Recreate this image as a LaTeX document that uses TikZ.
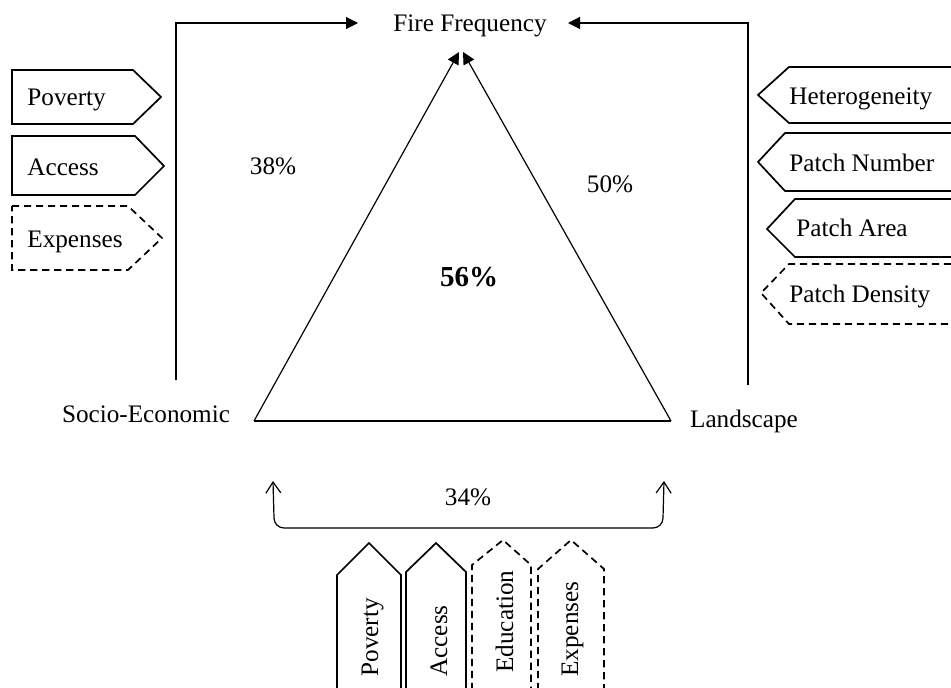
\documentclass[tikz,border=0pt]{standalone}
\usepackage{fontspec}
\setmainfont{Liberation Serif}
\usetikzlibrary{arrows.meta}
\begin{document}
\begin{tikzpicture}[x=0.5pt,y=-0.5pt,
  lbl/.style={font=\fontsize{12.6}{15}\selectfont, inner sep=0pt},
  tagbox/.style={draw, line width=0.85pt, line join=miter},
  dtagbox/.style={tagbox, dash pattern=on 3.6pt off 2.4pt},
  conn/.style={draw, line width=0.6pt},
  fillarr/.style={conn, -{Triangle[length=6pt,width=6pt]}},
  openarr/.style={conn, {Straight Barb[length=5.5pt,width=7.5pt]}-{Straight Barb[length=5.5pt,width=7.5pt]}}
]
\useasboundingbox (0,0) rectangle (951,688);

% main labels
\node[lbl, anchor=base] (fire) at (470,32) {Fire Frequency};
\node[lbl, anchor=base] (socio) at (146,423) {Socio-Economic};
\node[lbl, anchor=base] (land) at (744,428) {Landscape};
\node[lbl, anchor=base] (p38) at (273,175) {38\%};
\node[lbl, anchor=base] (p50) at (610,193) {50\%};
\node[lbl, anchor=base] (p34) at (468,505) {34\%};
\node[lbl, anchor=base, font=\fontsize{14.5}{17}\selectfont\bfseries] (p56) at (469,287) {56\%};

% coordinates for connectors
\coordinate (sl) at (176,380);
\coordinate (slt) at (176,23);
\coordinate (ffl) at (358,23);
\coordinate (lr) at (748,385);
\coordinate (lrt) at (748,23);
\coordinate (ffr) at (568,23);
\coordinate (A) at (254,421);
\coordinate (B) at (671,421);
\coordinate (apexL) at (459,52);
\coordinate (apexR) at (463,52);
\coordinate (bl) at (273,481);
\coordinate (br) at (664,481);

% top connectors
\draw[fillarr] (sl) -- (slt) -- (ffl);
\draw[fillarr] (lr) -- (lrt) -- (ffr);

% triangle
\draw[conn] (A) -- (B);
\draw[fillarr] (A) -- (apexL);
\draw[fillarr] (B) -- (apexR);

% bottom bracket
\draw[openarr] (bl) -- (274,518) to[out=-90,in=180] (284,528) -- (653,528) to[out=0,in=-90] (663,518) -- (br);

% left tags
\draw[tagbox] (12,70) -- (133,70) -- (161,97) -- (133,124) -- (12,124) -- cycle;
\node[lbl, anchor=base west] (lpov) at (27,106) {Poverty};
\draw[tagbox] (12,136) -- (135,136) -- (164,166) -- (135,195) -- (12,195) -- cycle;
\node[lbl, anchor=base west] (lacc) at (27,176) {Access};
\draw[dtagbox] (12,206) -- (128,206) -- (162,238) -- (128,270) -- (12,270) -- cycle;
\node[lbl, anchor=base west] (lexp) at (27,248) {Expenses};

% right tags
\draw[tagbox] (951,67) -- (789,67) -- (758,95) -- (789,123) -- (951,123);
\node[lbl, anchor=base west] (rhet) at (789,105) {Heterogeneity};
\draw[tagbox] (951,133) -- (785,133) -- (758,162) -- (785,191) -- (951,191);
\node[lbl, anchor=base west] (rpn) at (789,172) {Patch Number};
\draw[tagbox] (951,199) -- (795,199) -- (767,229) -- (795,257) -- (951,257);
\node[lbl, anchor=base west] (rpa) at (796,237) {Patch Area};
\draw[dtagbox] (951,264) -- (789,264) -- (761,293) -- (789,324) -- (951,324);
\node[lbl, anchor=base west] (rpd) at (789,303) {Patch Density};

% bottom tags
\draw[tagbox] (337,690) -- (337,575) -- (369,543) -- (401,575) -- (401,690);
\node[lbl, anchor=base west, rotate=90] (bpov) at (378,677) {Poverty};
\draw[tagbox] (406,690) -- (406,572) -- (436,543) -- (466,572) -- (466,690);
\node[lbl, anchor=base west, rotate=90] (bacc) at (447,677) {Access};
\draw[dtagbox] (472,690) -- (472,565) -- (503,540) -- (531,565) -- (531,690);
\node[lbl, anchor=base west, rotate=90] (bedu) at (513,673) {Education};
\draw[dtagbox] (538,690) -- (538,569) -- (571,540) -- (604,569) -- (604,690);
\node[lbl, anchor=base west, rotate=90] (bexp) at (578,677) {Expenses};
\end{tikzpicture}
\end{document}
